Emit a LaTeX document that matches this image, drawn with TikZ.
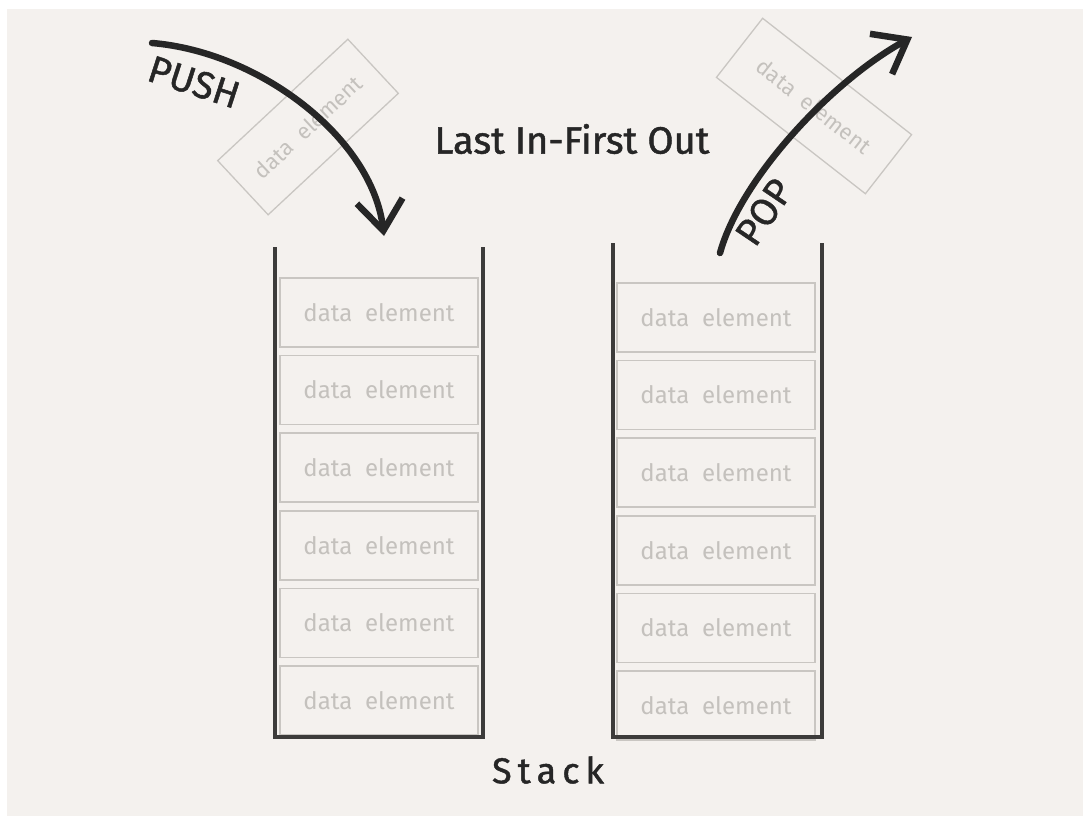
\documentclass[tikz,border=0pt]{standalone}
\usepackage{fontspec}
\setmainfont{Fira Sans}
\usepackage{xcolor}
\usetikzlibrary{arrows.meta,positioning}
\definecolor{paper}{HTML}{F4F1EE}
\definecolor{inkgray}{HTML}{262626}
\definecolor{wallgray}{HTML}{3C3B3A}
\definecolor{boxgray}{HTML}{C9C6C2}
\definecolor{fadedtext}{HTML}{C4C1BD}
\tikzset{
  wall/.style={wallgray, line width=3.4pt, line join=miter},
  elembox/.style={draw=boxgray, line width=1.6pt, minimum width=198pt, minimum height=69pt, inner sep=0pt, text=fadedtext, font=\fontsize{24}{27}\selectfont, align=center},
  floatbox/.style={draw=boxgray, line width=1.3pt, inner sep=0pt, text=fadedtext, font=\fontsize{22}{25}\selectfont},
  handlabel/.style={text=inkgray, inner sep=1pt, font=\fontsize{38}{42}\selectfont\addfontfeatures{FakeBold=1.2}},
  bigarrow/.style={inkgray, line width=6.5pt, line cap=round, -{Straight Barb[length=30pt, width=46pt, line width=6.5pt]}}
}
\begin{document}
\begin{tikzpicture}[x=1pt, y=-1pt, node distance=7pt]
  \useasboundingbox (0,0) rectangle (1083,816);
  \fill[white] (0,0) rectangle (1083,816);
  \fill[paper] (7,9) rectangle (1083,816);

  % left stack
  \coordinate (pwalltl) at (275,247);
  \coordinate (pwallbr) at (483,737);
  \coordinate (pwalltr) at (483,247);
  \node[elembox] (p1) at (379,312.5) {data\ \ element};
  \node[elembox, below=of p1] (p2) {data\ \ element};
  \node[elembox, below=of p2] (p3) {data\ \ element};
  \node[elembox, below=of p3] (p4) {data\ \ element};
  \node[elembox, below=of p4] (p5) {data\ \ element};
  \node[elembox, below=of p5] (p6) {data\ \ element};
  \draw[wall] (pwalltl) |- (pwallbr) -- (pwalltr);

  % right stack
  \coordinate (qwalltl) at (613,243);
  \coordinate (qwallbr) at (822,737);
  \coordinate (qwalltr) at (822,243);
  \node[elembox] (q1) at (716,317.5) {data\ \ element};
  \node[elembox, below=of q1] (q2) {data\ \ element};
  \node[elembox, below=of q2] (q3) {data\ \ element};
  \node[elembox, below=of q3] (q4) {data\ \ element};
  \node[elembox, below=of q4] (q5) {data\ \ element};
  \node[elembox, below=of q5] (q6) {data\ \ element};
  \draw[wall] (qwalltl) |- (qwallbr) -- (qwalltr);

  % elements on the move
  \node[floatbox, rotate=43, minimum width=178pt, minimum height=74pt] (pushed) at (308,127) {data\ \ element};
  \node[floatbox, rotate=-38, minimum width=189pt, minimum height=75pt] (popped) at (814,106) {data\ \ element};

  \coordinate (pushstart) at (152,43);
  \coordinate (pushend) at (384,236);
  \coordinate (popstart) at (720,253);
  \coordinate (popend) at (912,37);
  \draw[bigarrow] (pushstart) .. controls (260,52) and (372,138) .. (pushend);
  \draw[bigarrow] (popstart) .. controls (740,180) and (830,82) .. (popend);

  \node[handlabel, rotate=-18] (push) at (194,82) {PUSH};
  \node[handlabel, rotate=56] (pop) at (764,212) {POP};
  \node[handlabel] (lifo) at (572,139) {Last In-First Out};
  \node[handlabel, font=\fontsize{36}{40}\selectfont\addfontfeatures{FakeBold=1.2}] (stack) at (548,770) {S\,t\,a\,c\,k};
\end{tikzpicture}
\end{document}
